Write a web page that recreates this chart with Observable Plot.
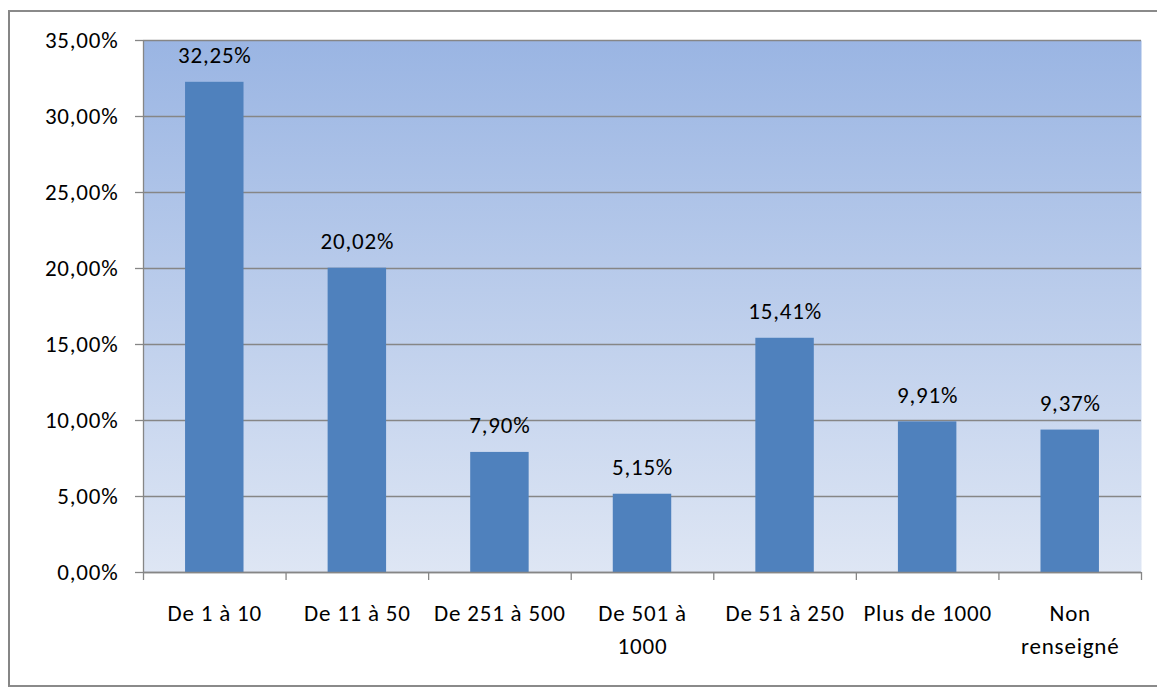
<!DOCTYPE html>
<html>
<head>
<meta charset="utf-8">
<script src="https://cdn.jsdelivr.net/npm/d3@7"></script>
<script src="https://cdn.jsdelivr.net/npm/@observablehq/plot@0.6"></script>
<style>
  html, body { margin: 0; padding: 0; background: #fff; }
  #wrap { position: relative; width: 1157px; height: 690px; overflow: hidden; }
  #border { position: absolute; left: 8px; top: 10px; width: 1160px; height: 677px;
            border-left: 2px solid #868686; border-top: 2px solid #8a8a8a; border-bottom: 2px solid #8a8a8a; box-sizing: border-box; }
  #chart { position: absolute; left: 0; top: 0; }
  #chart svg text { letter-spacing: 0.8px; }
</style>
</head>
<body>
<div id="wrap"><div id="border"></div><div id="chart"></div></div>
<script>
const categories = ["De 1 à 10", "De 11 à 50", "De 251 à 500", "De 501 à\n1000", "De 51 à 250", "Plus de 1000", "Non\nrenseigné"];
const values = [32.25, 20.02, 7.90, 5.15, 15.41, 9.91, 9.37];
const valueLabels = ["32,25%", "20,02%", "7,90%", "5,15%", "15,41%", "9,91%", "9,37%"];
const yTicks = [0, 5, 10, 15, 20, 25, 30, 35];

const data = categories.map((c, i) => ({cat: c, i, value: values[i], label: valueLabels[i]}));
const fmt = v => v.toFixed(2).replace(".", ",") + "%";
const font = "Carlito, Lato, sans-serif";
const pad = 0.295;

const plot = Plot.plot({
  width: 1157,
  height: 690,
  marginLeft: 143,
  marginRight: 16,
  marginTop: 40,
  marginBottom: 118,
  style: {fontFamily: font, fontSize: "23px", color: "#000", background: "transparent"},
  x: {domain: [0, categories.length], axis: null},
  y: {domain: [0, 35], axis: null},
  marks: [
    Plot.frame({fill: "url(#bgGrad)", stroke: "none"}),
    Plot.gridY(yTicks, {stroke: "#868686", strokeOpacity: 1, strokeWidth: 1.3}),
    Plot.ruleX([0], {stroke: "#868686", strokeWidth: 1.3}),
    Plot.axisY({ticks: yTicks, tickSize: 8, tickPadding: 17, tickFormat: fmt, label: null, stroke: "#868686", fill: "#000", fontSize: 23, strokeWidth: 1.3}),
    Plot.axisX({ticks: d3.range(categories.length + 1), tickSize: 8, tickFormat: () => "", label: null, stroke: "#868686", strokeWidth: 1.3}),
    Plot.rect(data, {x1: d => d.i + pad, x2: d => d.i + 1 - pad, y1: 0, y2: "value", fill: "#4f81bd"}),
    Plot.ruleY([0], {stroke: "#868686", strokeWidth: 1.3}),
    Plot.text(data, {x: d => d.i + 0.5, y: "value", text: "label", lineAnchor: "bottom", dy: -19, fontSize: 23, fill: "#000"}),
    Plot.text(data, {x: d => d.i + 0.5, y: 0, text: "cat", lineAnchor: "top", dy: 26, fontSize: 23, lineHeight: 1.4, fill: "#000"})
  ]
});

const svgNS = "http://www.w3.org/2000/svg";
const defs = document.createElementNS(svgNS, "defs");
const grad = document.createElementNS(svgNS, "linearGradient");
grad.setAttribute("id", "bgGrad");
grad.setAttribute("x1", "0"); grad.setAttribute("y1", "0");
grad.setAttribute("x2", "0"); grad.setAttribute("y2", "1");
[["0%", "#9ab5e3"], ["100%", "#dee6f4"]].forEach(([o, c]) => {
  const s = document.createElementNS(svgNS, "stop");
  s.setAttribute("offset", o); s.setAttribute("stop-color", c);
  grad.appendChild(s);
});
defs.appendChild(grad);
plot.insertBefore(defs, plot.firstChild);
document.getElementById("chart").appendChild(plot);
</script>
</body>
</html>
